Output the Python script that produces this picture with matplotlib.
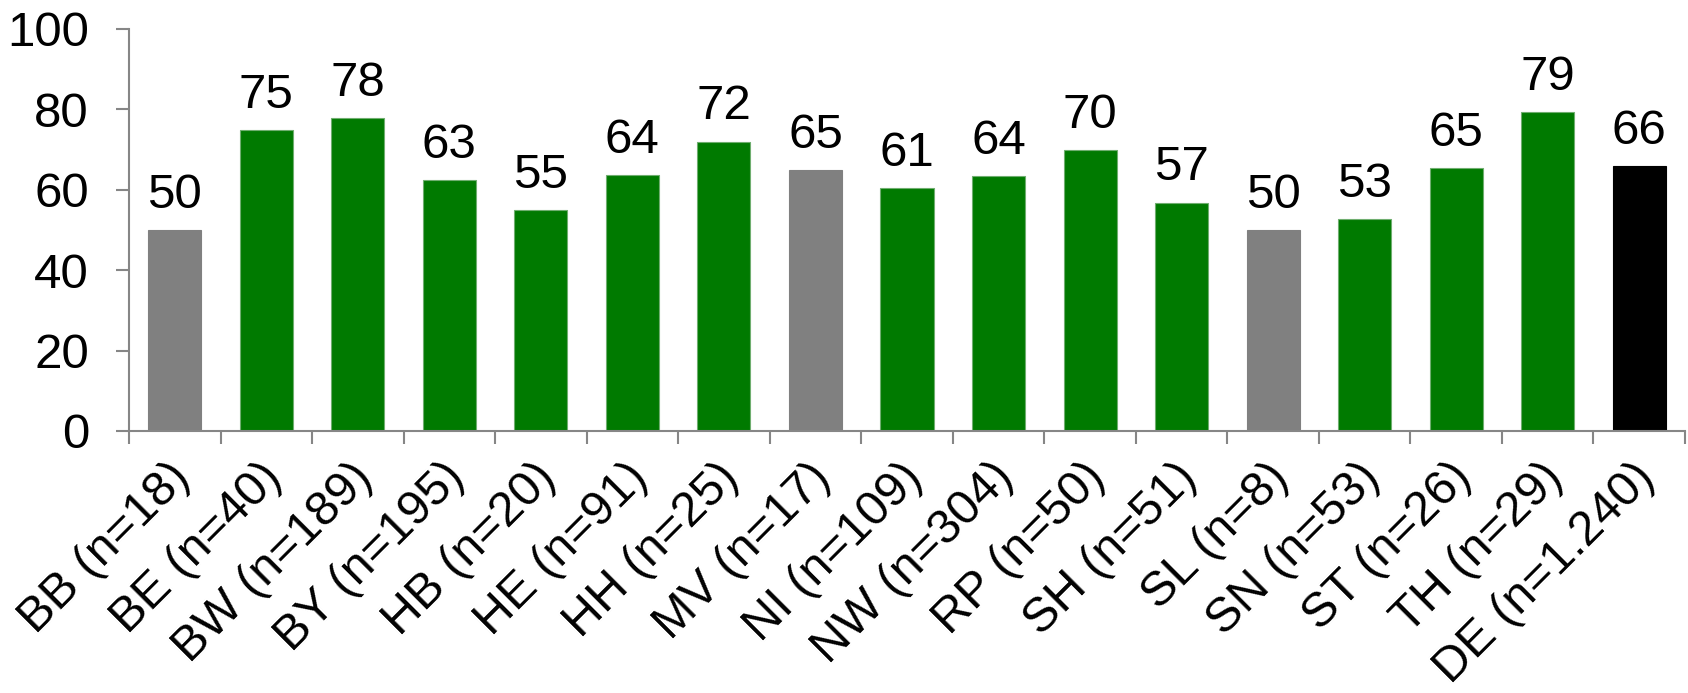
import matplotlib
matplotlib.use("Agg")
import matplotlib.pyplot as plt
from matplotlib.transforms import ScaledTranslation
import numpy as np

plt.rcParams['font.family'] = ['Liberation Sans', 'DejaVu Sans']

# ---- data ----
regions = ["BB", "BE", "BW", "BY", "HB", "HE", "HH", "MV", "NI",
           "NW", "RP", "SH", "SL", "SN", "ST", "TH", "DE"]
sample_sizes = ["18", "40", "189", "195", "20", "91", "25", "17", "109",
                "304", "50", "51", "8", "53", "26", "29", "1.240"]
values = [50.0, 74.9, 77.8, 62.5, 55.0, 63.7, 72.0, 64.9, 60.5,
          63.4, 69.9, 56.8, 50.0, 52.7, 65.3, 79.3, 65.8]
value_labels = ["50", "75", "78", "63", "55", "64", "72", "65", "61",
                "64", "70", "57", "50", "53", "65", "79", "66"]
groups = ["small", "state", "state", "state", "state", "state", "state", "small", "state",
          "state", "state", "state", "small", "state", "state", "state", "total"]
y_ticks = [0, 20, 40, 60, 80, 100]

# ---- styling ----
color_map = {"state": "#007A00", "small": "#808080", "total": "#000000"}
edge_map = {"state": "#6fae6f", "small": "#808080", "total": "#000000"}
axis_grey = "#868686"
fs = 35.5
fs_x = 35

W, H = 1688, 693
fig = plt.figure(figsize=(W / 100, H / 100), dpi=100)
ax = fig.add_axes([129 / W, 1 - 431 / H, (1685 - 129) / W, (431 - 29) / H])

n = len(regions)
x = np.arange(n)
ax.bar(x, values, width=0.58,
       color=[color_map[g] for g in groups],
       edgecolor=[edge_map[g] for g in groups], linewidth=0.8, zorder=2)

for xi, v, t in zip(x, values, value_labels):
    ax.annotate(t, (xi, v), xytext=(0, 16), textcoords="offset points",
                ha="center", va="baseline", fontsize=fs, color="black")

ax.set_xlim(-0.5, n - 0.5)
ax.set_ylim(0, 100)
ax.set_yticks(y_ticks)
ax.set_yticklabels([str(t) for t in y_ticks])

for s in ["top", "right"]:
    ax.spines[s].set_visible(False)
for s in ["left", "bottom"]:
    ax.spines[s].set_color(axis_grey)
    ax.spines[s].set_linewidth(1.5)

ax.tick_params(axis="y", direction="out", length=9.4, width=1.5,
               color=axis_grey, pad=19.4, labelsize=fs, labelcolor="black")

labels = [f"{r} (n={s})" for r, s in zip(regions, sample_sizes)]
ax.set_xticks(x)
ax.set_xticklabels(labels, rotation=45, ha="right", va="center",
                   rotation_mode="anchor", fontsize=fs_x)
ax.set_xticks(np.arange(-0.5, n, 1), minor=True)
ax.tick_params(axis="x", which="major", length=0, pad=28.3)
ax.tick_params(axis="x", which="minor", direction="out", length=9.4,
               width=1.5, color=axis_grey)
offset = ScaledTranslation(8 / 100, 0, fig.dpi_scale_trans)
for lab in ax.get_xticklabels():
    lab.set_transform(lab.get_transform() + offset)

fig.savefig("out.png", dpi=100, facecolor="white")
